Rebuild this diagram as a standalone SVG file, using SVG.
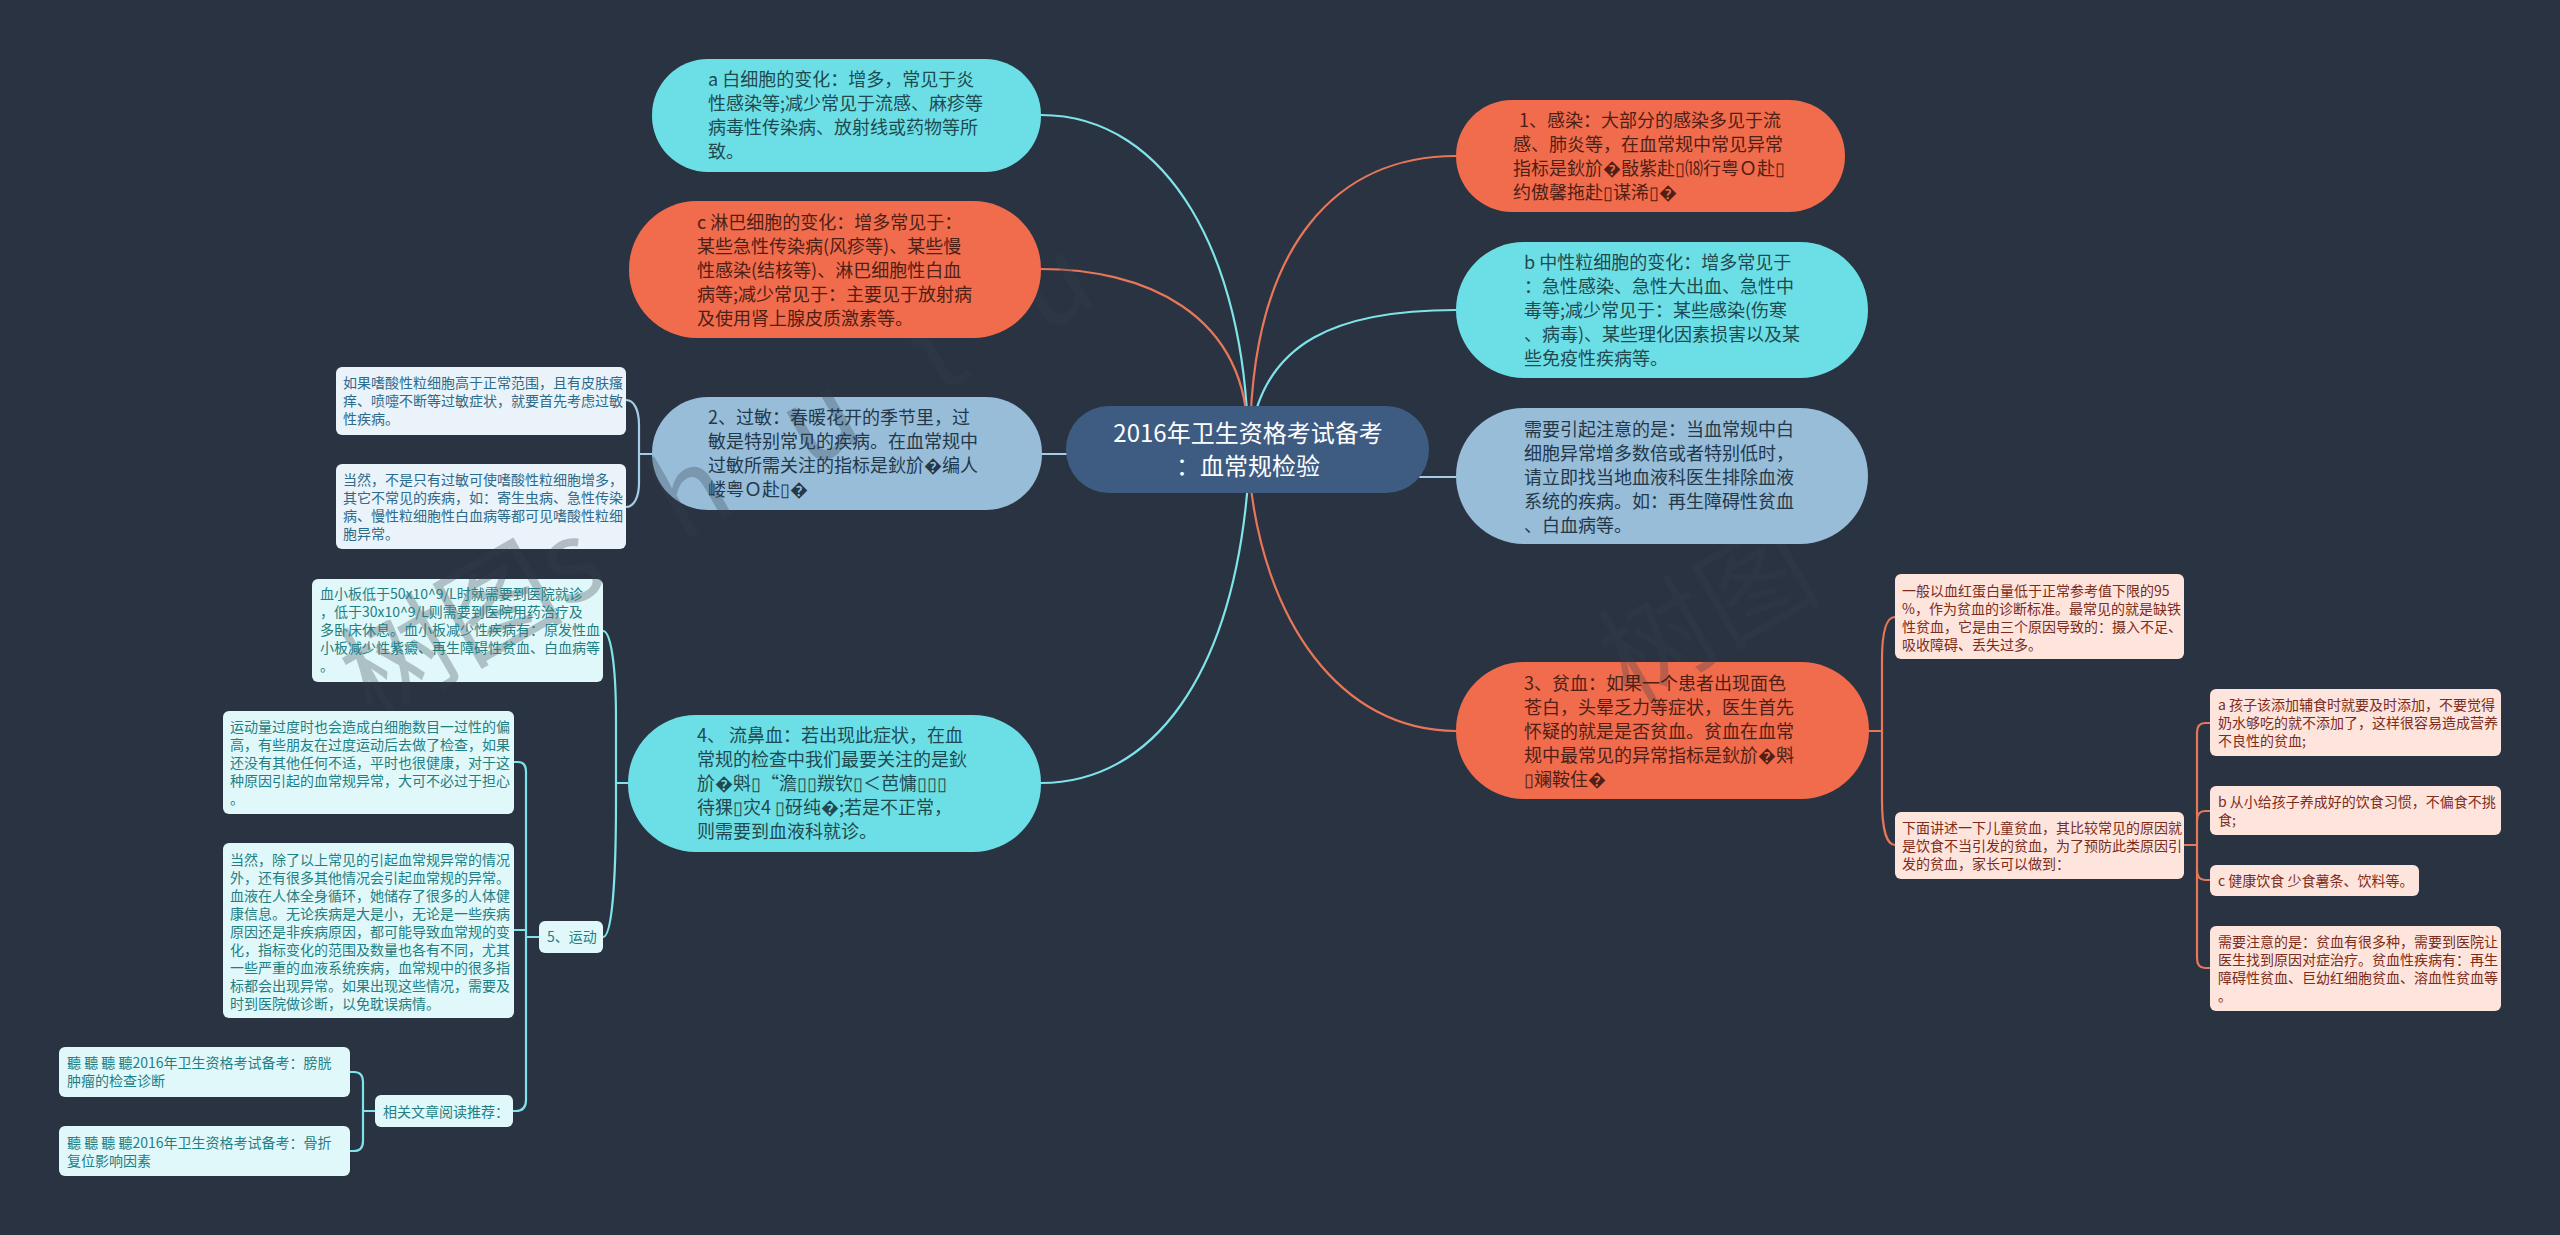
<svg xmlns="http://www.w3.org/2000/svg" width="2560" height="1235" viewBox="0 0 2560 1235">
<style>
text{font-family:"Noto Sans CJK SC","Noto Sans",sans-serif}
.l{fill:none;stroke-width:2.2;stroke-linecap:round}
.c{stroke:#7fe3ea}.o{stroke:#e8775a}.b{stroke:#a5cde6}
.big{font-size:18px}.sm{font-size:14px}
.nc{fill:#6cdfe6}.no{fill:#f06c4c}.nb{fill:#97bdd8}.nm{fill:#3e5c82}
.bc{fill:#e0f8fa}.bo{fill:#fde4dd}.bb{fill:#eaf3f9}
.tc{fill:#1f4a50}.to{fill:#4f2015}.tb{fill:#23384a}
.sc{fill:#1f7f84}.so{fill:#7c2c1a}.sb{fill:#2e6a8a}
.wm{fill:#363e4b;fill-opacity:.3;font-size:112px}
</style>
<rect width="2560" height="1235" fill="#2a3341"/>
<g id="connectors">
<path class="l c" d="M1041,115C1170,115 1245,260 1248,440"/>
<path class="l o" d="M1041,269C1140,269 1248,310 1248,440"/>
<path class="l o" d="M1456,156C1340,156 1252,240 1250,440"/>
<path class="l c" d="M1456,310C1340,310 1262,340 1250,440"/>
<path class="l c" d="M1041,783C1150,783 1235,680 1249,470"/>
<path class="l o" d="M1456,731C1340,731 1262,620 1249,470"/>
<path class="l b" d="M1042,454H1070M1420,477H1457"/>
<path class="l b" d="M652,454H639M626,400C634,400 639,410 639,425V483C639,497 634,507 626,507"/>
<path class="l c" d="M628,783H616M603,631C610,631 616,660 616,720V800C616,880 612,937 603,937"/>
<path class="l c" d="M539,937H526M514,762H518Q526,762 526,772V1100Q526,1111 516,1111H513M514,930H526"/>
<path class="l c" d="M375,1111H363M350,1072H354Q363,1072 363,1082V1141Q363,1151 354,1151H350"/>
<path class="l o" d="M1869,731H1882M1895,617C1887,617 1882,630 1882,660V800C1882,830 1887,845 1895,845"/>
<path class="l o" d="M2184,845H2197M2210,723H2205Q2197,723 2197,733V958Q2197,968 2205,968H2210M2197,821Q2197,811 2205,811H2210M2197,870Q2197,880 2205,880H2210"/>
</g>
<g id="n-2"><rect class="nb" x="652" y="397" width="390" height="113" rx="56"/></g>
<g id="b-eos1"><rect class="bb" x="336" y="367" width="290" height="68" rx="6"/></g>
<g id="b-eos2"><rect class="bb" x="336" y="464" width="290" height="85" rx="6"/></g>
<g id="b-plt"><rect class="bc" x="312" y="579" width="291" height="103" rx="6"/></g>
<g id="watermark">
<text class="wm" transform="translate(372,722) rotate(-30)">树图<tspan letter-spacing="80">shutu</tspan></text>
</g>
<g id="t-2"><text class="big tb"><tspan x="708" y="424">2、过敏：春暖花开的季节里，过</tspan><tspan x="708" y="448">敏是特别常见的疾病。在血常规中</tspan><tspan x="708" y="472">过敏所需关注的指标是鈥斺�编人</tspan><tspan x="708" y="496">嵝粤Ｏ赴▯�</tspan></text></g>
<g id="t-eos1"><text class="sm sb"><tspan x="343" y="388">如果嗜酸性粒细胞高于正常范围，且有皮肤瘙</tspan><tspan x="343" y="406">痒、喷嚏不断等过敏症状，就要首先考虑过敏</tspan><tspan x="343" y="424">性疾病。</tspan></text></g>
<g id="t-eos2"><text class="sm sb"><tspan x="343" y="485">当然，不是只有过敏可使嗜酸性粒细胞增多，</tspan><tspan x="343" y="503">其它不常见的疾病，如：寄生虫病、急性传染</tspan><tspan x="343" y="521">病、慢性粒细胞性白血病等都可见嗜酸性粒细</tspan><tspan x="343" y="539">胞异常。</tspan></text></g>
<g id="t-plt"><text class="sm sc"><tspan x="320" y="599">血小板低于50x10^9/L时就需要到医院就诊</tspan><tspan x="320" y="617">，低于30x10^9/L则需要到医院用药治疗及</tspan><tspan x="320" y="635">多卧床休息。血小板减少性疾病有：原发性血</tspan><tspan x="320" y="653">小板减少性紫癜、再生障碍性贫血、白血病等</tspan><tspan x="320" y="671">。</tspan></text></g>
<g id="n-center"><rect class="nm" x="1066" y="406" width="363" height="87" rx="43"/>
<text font-size="24" fill="#fff" text-anchor="middle"><tspan x="1248" y="442">2016年卫生资格考试备考</tspan><tspan x="1248" y="475">：血常规检验</tspan></text></g>
<g id="n-a"><rect class="nc" x="652" y="59" width="389" height="113" rx="56"/>
<text class="big tc"><tspan x="708" y="86">a 白细胞的变化：增多，常见于炎</tspan><tspan x="708" y="110">性感染等;减少常见于流感、麻疹等</tspan><tspan x="708" y="134">病毒性传染病、放射线或药物等所</tspan><tspan x="708" y="158">致。</tspan></text></g>
<g id="n-c"><rect class="no" x="629" y="201" width="412" height="137" rx="68"/>
<text class="big to"><tspan x="697" y="229">c 淋巴细胞的变化：增多常见于：</tspan><tspan x="697" y="253">某些急性传染病(风疹等)、某些慢</tspan><tspan x="697" y="277">性感染(结核等)、淋巴细胞性白血</tspan><tspan x="697" y="301">病等;减少常见于：主要见于放射病</tspan><tspan x="697" y="325">及使用肾上腺皮质激素等。</tspan></text></g>
<g id="n-4"><rect class="nc" x="628" y="715" width="413" height="137" rx="68"/>
<text class="big tc"><tspan x="697" y="742">4、 流鼻血：若出现此症状，在血</tspan><tspan x="697" y="766">常规的检查中我们最要关注的是鈥</tspan><tspan x="697" y="790">斺�斞▯“澹▯▯羰钦▯＜芭慵▯▯▯</tspan><tspan x="697" y="814">待猓▯灾4 ▯砑纯�;若是不正常，</tspan><tspan x="697" y="838">则需要到血液科就诊。</tspan></text></g>
<g id="n-1"><rect class="no" x="1456" y="100" width="389" height="112" rx="56"/>
<text class="big to"><tspan x="1519" y="127">1、感染：大部分的感染多见于流</tspan><tspan x="1513" y="151">感、肺炎等，在血常规中常见异常</tspan><tspan x="1513" y="175">指标是鈥斺�敯紫赴▯⒅行粤Ｏ赴▯</tspan><tspan x="1513" y="199">约傲馨拖赴▯谋浠▯�</tspan></text></g>
<g id="n-b"><rect class="nc" x="1456" y="242" width="412" height="136" rx="68"/>
<text class="big tc"><tspan x="1524" y="269">b 中性粒细胞的变化：增多常见于</tspan><tspan x="1524" y="293">：急性感染、急性大出血、急性中</tspan><tspan x="1524" y="317">毒等;减少常见于：某些感染(伤寒</tspan><tspan x="1524" y="341">、病毒)、某些理化因素损害以及某</tspan><tspan x="1524" y="365">些免疫性疾病等。</tspan></text></g>
<g id="n-3"><rect class="no" x="1456" y="662" width="413" height="137" rx="68"/></g>
<g id="watermark2">
<text class="wm" transform="translate(1630,704) rotate(-30)">树图</text>
</g>
<g id="t-3"><text class="big to"><tspan x="1524" y="690">3、贫血：如果一个患者出现面色</tspan><tspan x="1524" y="714">苍白，头晕乏力等症状，医生首先</tspan><tspan x="1524" y="738">怀疑的就是是否贫血。贫血在血常</tspan><tspan x="1524" y="762">规中最常见的异常指标是鈥斺�斞</tspan><tspan x="1524" y="786">▯斓鞍住�</tspan></text></g>
<g id="n-note"><rect class="nb" x="1456" y="408" width="412" height="136" rx="68"/>
<text class="big tb"><tspan x="1524" y="436">需要引起注意的是：当血常规中白</tspan><tspan x="1524" y="460">细胞异常增多数倍或者特别低时，</tspan><tspan x="1524" y="484">请立即找当地血液科医生排除血液</tspan><tspan x="1524" y="508">系统的疾病。如：再生障碍性贫血</tspan><tspan x="1524" y="532">、白血病等。</tspan></text></g>
<g id="b-sport1"><rect class="bc" x="223" y="711" width="291" height="103" rx="6"/>
<text class="sm sc"><tspan x="230" y="732">运动量过度时也会造成白细胞数目一过性的偏</tspan><tspan x="230" y="750">高，有些朋友在过度运动后去做了检查，如果</tspan><tspan x="230" y="768">还没有其他任何不适，平时也很健康，对于这</tspan><tspan x="230" y="786">种原因引起的血常规异常，大可不必过于担心</tspan><tspan x="230" y="804">。</tspan></text></g>
<g id="b-sport2"><rect class="bc" x="223" y="843" width="291" height="175" rx="6"/>
<text class="sm sc"><tspan x="230" y="865">当然，除了以上常见的引起血常规异常的情况</tspan><tspan x="230" y="883">外，还有很多其他情况会引起血常规的异常。</tspan><tspan x="230" y="901">血液在人体全身循环，她储存了很多的人体健</tspan><tspan x="230" y="919">康信息。无论疾病是大是小，无论是一些疾病</tspan><tspan x="230" y="937">原因还是非疾病原因，都可能导致血常规的变</tspan><tspan x="230" y="955">化，指标变化的范围及数量也各有不同，尤其</tspan><tspan x="230" y="973">一些严重的血液系统疾病，血常规中的很多指</tspan><tspan x="230" y="991">标都会出现异常。如果出现这些情况，需要及</tspan><tspan x="230" y="1009">时到医院做诊断，以免耽误病情。</tspan></text></g>
<g id="b-sport"><rect class="bc" x="539" y="921" width="64" height="32" rx="6"/>
<text class="sm sc" x="547" y="942">5、运动</text></g>
<g id="b-read"><rect class="bc" x="375" y="1095" width="138" height="32" rx="6"/>
<text class="sm sc" x="383" y="1117">相关文章阅读推荐：</text></g>
<g id="b-read1"><rect class="bc" x="59" y="1047" width="291" height="50" rx="6"/>
<text class="sm sc"><tspan x="67" y="1068">聽 聽 聽 聽2016年卫生资格考试备考：膀胱</tspan><tspan x="67" y="1086">肿瘤的检查诊断</tspan></text></g>
<g id="b-read2"><rect class="bc" x="59" y="1126" width="291" height="50" rx="6"/>
<text class="sm sc"><tspan x="67" y="1148">聽 聽 聽 聽2016年卫生资格考试备考：骨折</tspan><tspan x="67" y="1166">复位影响因素</tspan></text></g>
<g id="b-an1"><rect class="bo" x="1895" y="574" width="289" height="85" rx="6"/>
<text class="sm so"><tspan x="1902" y="596">一般以血红蛋白量低于正常参考值下限的95</tspan><tspan x="1902" y="614">%，作为贫血的诊断标准。最常见的就是缺铁</tspan><tspan x="1902" y="632">性贫血，它是由三个原因导致的：摄入不足、</tspan><tspan x="1902" y="650">吸收障碍、丢失过多。</tspan></text></g>
<g id="b-an2"><rect class="bo" x="1895" y="812" width="289" height="67" rx="6"/>
<text class="sm so"><tspan x="1902" y="833">下面讲述一下儿童贫血，其比较常见的原因就</tspan><tspan x="1902" y="851">是饮食不当引发的贫血，为了预防此类原因引</tspan><tspan x="1902" y="869">发的贫血，家长可以做到：</tspan></text></g>
<g id="b-k1"><rect class="bo" x="2210" y="689" width="291" height="67" rx="6"/>
<text class="sm so"><tspan x="2218" y="710">a 孩子该添加辅食时就要及时添加，不要觉得</tspan><tspan x="2218" y="728">奶水够吃的就不添加了，这样很容易造成营养</tspan><tspan x="2218" y="746">不良性的贫血;</tspan></text></g>
<g id="b-k2"><rect class="bo" x="2210" y="786" width="291" height="49" rx="6"/>
<text class="sm so"><tspan x="2218" y="807">b 从小给孩子养成好的饮食习惯，不偏食不挑</tspan><tspan x="2218" y="825">食;</tspan></text></g>
<g id="b-k3"><rect class="bo" x="2210" y="865" width="209" height="31" rx="6"/>
<text class="sm so" x="2218" y="886">c 健康饮食 少食薯条、饮料等。</text></g>
<g id="b-k4"><rect class="bo" x="2210" y="926" width="291" height="85" rx="6"/>
<text class="sm so"><tspan x="2218" y="947">需要注意的是：贫血有很多种，需要到医院让</tspan><tspan x="2218" y="965">医生找到原因对症治疗。贫血性疾病有：再生</tspan><tspan x="2218" y="983">障碍性贫血、巨幼红细胞贫血、溶血性贫血等</tspan><tspan x="2218" y="1001">。</tspan></text></g>
</svg>
